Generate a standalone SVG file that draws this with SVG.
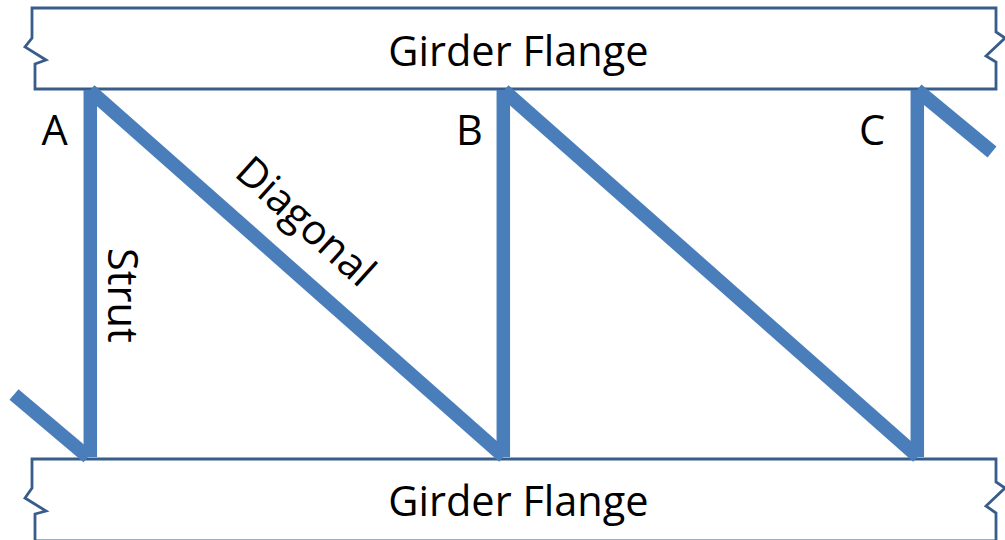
<svg xmlns="http://www.w3.org/2000/svg" width="1005" height="540" viewBox="0 0 1005 540">
<style>
.flange{fill:#fff;stroke:#385d8a;stroke-width:2.8;stroke-linejoin:miter}
.member{fill:none;stroke:#4a7ebb;stroke-width:13.500;stroke-linecap:butt}
.diag{stroke-width:14}
text{font-family:"Open Sans","Noto Sans","DejaVu Sans",sans-serif;fill:#000;font-size:41.500px}
.big{text-anchor:middle}
</style>
<rect width="1005" height="540" fill="#fff"/>
<g id="flange-top"><path class="flange" d="M32 8H996V32L1005 38L986 56L996 62V89H35V64L46 60L25 47L32 38Z"/><text class="big" x="518.500" y="66">Girder Flange</text></g>
<g id="flange-bottom"><path class="flange" d="M32 459H996V482L1005 488L986 506L996 513V541H35V514L46 511L25 498L32 488Z"/><text class="big" x="518.500" y="516">Girder Flange</text></g>
<g id="connectors">
<path class="member" d="M90.300 90V457"/><path class="member" d="M503.300 90V457"/><path class="member" d="M917.300 90V457"/>
<path class="member diag" d="M89.800 90.600L503.800 456.400"/>
<path class="member diag" d="M503.800 90.600L917.800 456.400"/>
<path class="member diag" d="M917 90L992 152"/>
<path class="member diag" d="M14 394.500L88 457"/>
</g>
<g id="label-a"><text x="41.500" y="145">A</text></g>
<g id="label-b"><text x="456" y="145">B</text></g>
<g id="label-c"><text x="859" y="145">C</text></g>
<g id="label-strut"><text transform="translate(108 248) rotate(90)">Strut</text></g>
<g id="label-diagonal"><text transform="translate(233 175) rotate(42)">Diagonal</text></g>
</svg>
